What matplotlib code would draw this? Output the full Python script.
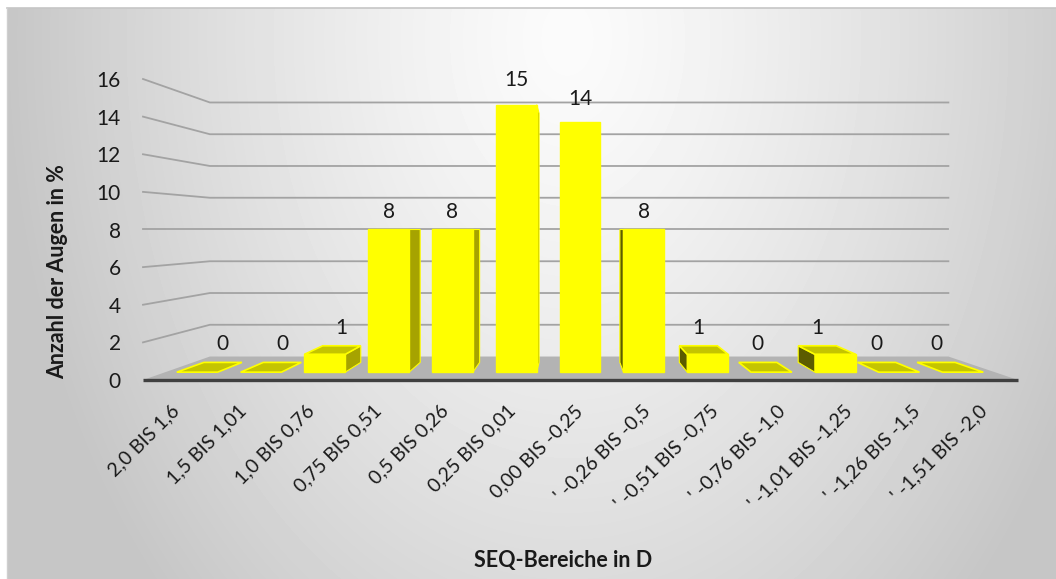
import numpy as np
import matplotlib.pyplot as plt
from matplotlib.patches import Polygon
from matplotlib.transforms import offset_copy

# Verteilung der Augen nach SEQ-Bereich
kategorien = ['2,0 BIS 1,6', '1,5 BIS 1,01', '1,0 BIS 0,76', '0,75 BIS 0,51',
              '0,5 BIS 0,26', '0,25 BIS 0,01', '0,00 BIS -0,25', "' -0,26 BIS -0,5",
              "' -0,51 BIS -0,75", "' -0,76 BIS -1,0", "' -1,01 BIS -1,25",
              "' -1,26 BIS -1,5", "' -1,51 BIS -2,0"]
anteil = [0, 0, 1, 8, 8, 15, 14, 8, 1, 0, 1, 0, 0]
y_ticks = [0, 2, 4, 6, 8, 10, 12, 14, 16]

plt.rcParams['font.family'] = ['Lato', 'DejaVu Sans']

W, H = 1056, 579
fig = plt.figure(figsize=(W / 100, H / 100), dpi=100, facecolor='white')

# --- Hintergrund mit radialem Verlauf ---
bg = fig.add_axes([7 / W, 0, 1 - 7 / W, (H - 8) / H])
yy, xx = np.mgrid[0:H - 8, 0:W - 7]
d = np.sqrt(((xx - 560) / 560.0) ** 2 + ((yy - 30) / 800.0) ** 2)
d = np.clip(d, 0, 1) ** 1.3
verlauf = 251 - (251 - 198) * d
bg.imshow(verlauf, cmap='gray', vmin=0, vmax=255, aspect='auto', interpolation='bilinear')
bg.set_axis_off()
fig.add_artist(plt.Line2D([7 / W, 1], [1 - 8 / H, 1 - 8 / H], color='#c6c6c6', lw=1.2))
fig.add_artist(plt.Line2D([7 / W, 7 / W], [0, 1 - 8 / H], color='#cfcfcf', lw=1.0))

# --- Diagrammfläche (Vorderkante des Bodens = x-Achse) ---
n = len(kategorien)
ax = fig.add_axes([143 / W, (H - 380) / H, 875 / W, 301 / H])
ax.set_xlim(0, n)
ax.set_ylim(0, 16)
ax.patch.set_alpha(0)
for sp in ax.spines.values():
    sp.set_visible(False)
ax.set_xticks([])
ax.set_yticks(y_ticks)
ax.tick_params(axis='y', length=0, pad=16, labelsize=15, labelcolor='#1a1a1a')

# Perspektive: Fluchtpunkt und Tiefenfaktoren
vx, vy = 6.37, 8.0
s_wand = 0.844      # Rückwand
s_vorn = 0.948      # Vorderseite der Säulen
s_hinten = 0.883    # Rückseite der Säulen
breite = 0.32


def proj(x, y, s):
    return (vx + s * (x - vx), vy + s * (y - vy))


# Gitternetz an Seiten- und Rückwand
for v in y_ticks[1:]:
    a = proj(0, v, 1.0)
    b = proj(0, v, s_wand)
    c = proj(n, v, s_wand)
    ax.plot([a[0], b[0], c[0]], [a[1], b[1], c[1]], color='#a3a3a3', lw=1.3,
            zorder=1, clip_on=False, solid_joinstyle='miter')

# Boden
boden = [proj(0, 0, 1.0), proj(n, 0, 1.0), proj(n, 0, s_wand), proj(0, 0, s_wand)]
ax.add_patch(Polygon(boden, closed=True, facecolor='#b3b3b3', edgecolor='none',
                     zorder=2, clip_on=False))
ax.plot([0, n], [0, 0], color='#404040', lw=2.4, zorder=2.5, clip_on=False,
        solid_capstyle='butt')

# Säulen
gelb = '#ffff00'
for i, v in enumerate(anteil):
    xm = i + 0.5
    x0, x1 = xm - breite, xm + breite
    z = 3 + i * 0.01
    if x1 < vx and v > 0:
        seite = [proj(x1, 0, s_vorn), proj(x1, 0, s_hinten),
                 proj(x1, v, s_hinten), proj(x1, v, s_vorn)]
        ax.add_patch(Polygon(seite, closed=True, facecolor='#a6a300', edgecolor=gelb,
                             lw=0.8, zorder=z, clip_on=False))
    if x0 > vx and v > 0:
        seite = [proj(x0, 0, s_vorn), proj(x0, 0, s_hinten),
                 proj(x0, v, s_hinten), proj(x0, v, s_vorn)]
        ax.add_patch(Polygon(seite, closed=True, facecolor='#5c5c00', edgecolor=gelb,
                             lw=0.8, zorder=z, clip_on=False))
    if v < vy:
        deckel = [proj(x0, v, s_vorn), proj(x1, v, s_vorn),
                  proj(x1, v, s_hinten), proj(x0, v, s_hinten)]
        ax.add_patch(Polygon(deckel, closed=True, facecolor='#c4c400', edgecolor=gelb,
                             lw=1.2, zorder=z + 0.001, clip_on=False))
    if v > 0:
        front = [proj(x0, 0, s_vorn), proj(x1, 0, s_vorn),
                 proj(x1, v, s_vorn), proj(x0, v, s_vorn)]
        ax.add_patch(Polygon(front, closed=True, facecolor=gelb, edgecolor=gelb,
                             lw=1.0, zorder=z + 0.002, clip_on=False))

    # Datenbeschriftung über der oberen Kante
    s_lab = s_hinten if v < vy else s_vorn
    lx, ly = proj(xm, v, s_lab)
    abstand = 18 + max(0, v - 8) * 0.9
    ax.text(lx, ly, str(v), ha='center', va='center', fontsize=15, color='#1a1a1a',
            transform=offset_copy(ax.transData, fig=fig, x=0, y=abstand, units='dots'),
            zorder=10, clip_on=False)

# Kategorienbeschriftung
for i, lab in enumerate(kategorien):
    ax.text(i + 0.5, 0, lab, rotation=45, rotation_mode='anchor', ha='right',
            va='center', fontsize=14, color='#1a1a1a',
            transform=offset_copy(ax.transData, fig=fig, x=0, y=-28, units='dots'),
            clip_on=False)

fig.text(58 / W, 1 - 272 / H, 'Anzahl der Augen in %', rotation=90, ha='center',
         va='center', fontsize=15.5, fontweight='bold', color='#1a1a1a')
fig.text(563 / W, 1 - 561 / H, 'SEQ-Bereiche in D', ha='center', va='center',
         fontsize=15.5, fontweight='bold', color='#1a1a1a')

fig.savefig('out.png', dpi=100)
